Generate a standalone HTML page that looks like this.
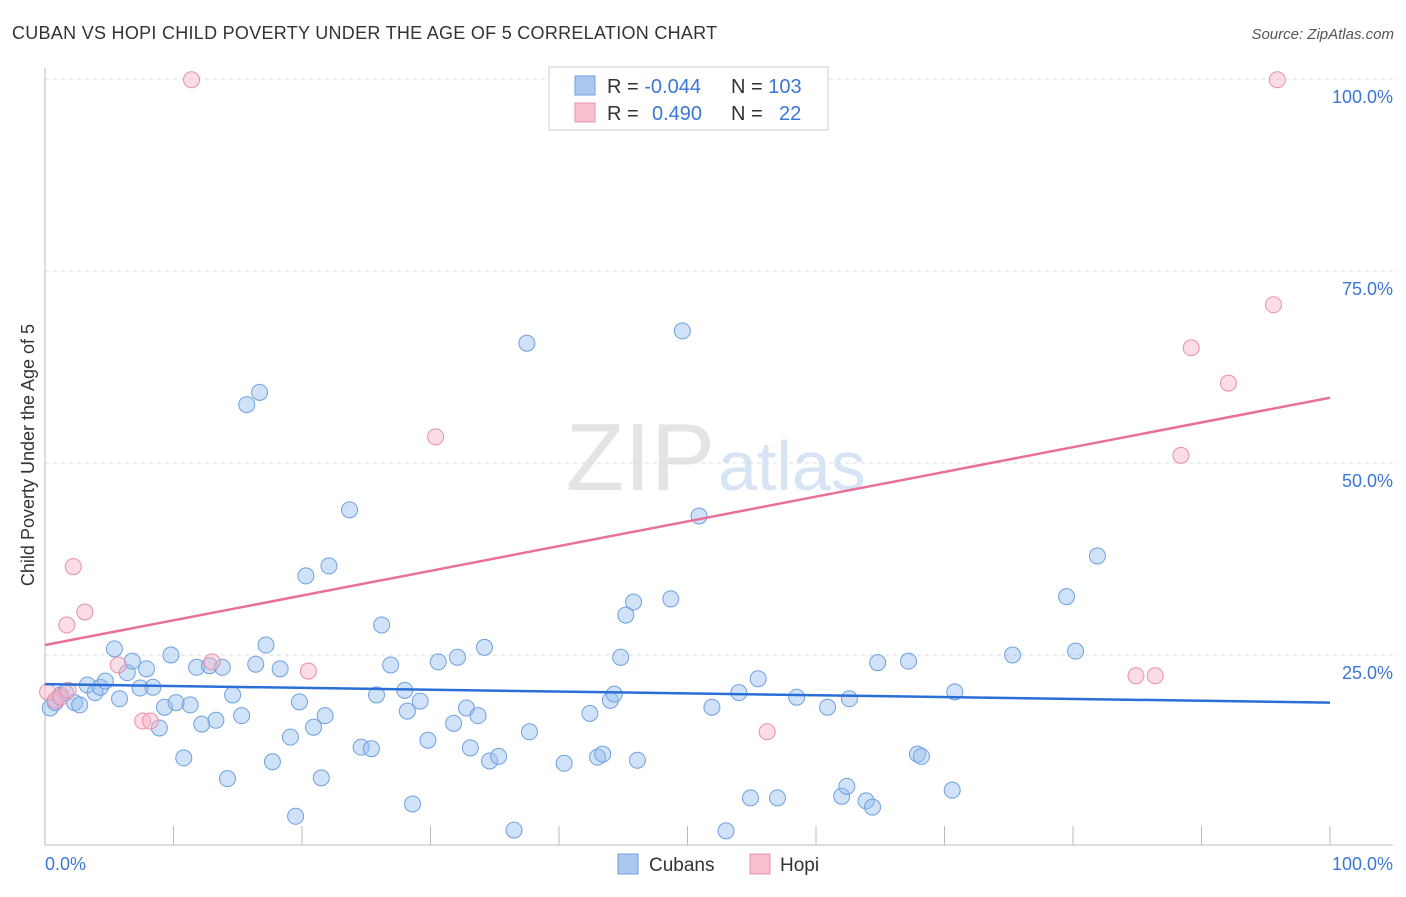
<!DOCTYPE html>
<html><head><meta charset="utf-8"><style>
body{margin:0;background:#fff;font-family:"Liberation Sans",sans-serif}
svg text{font-family:"Liberation Sans",sans-serif}
</style></head><body>
<svg id="chart" width="1406" height="892" viewBox="0 0 1406 892">
<text x="12" y="39" font-size="18" fill="#333" letter-spacing="0.28">CUBAN VS HOPI CHILD POVERTY UNDER THE AGE OF 5 CORRELATION CHART</text>
<text x="1394" y="39" font-size="15" fill="#555" font-style="italic" text-anchor="end">Source: ZipAtlas.com</text>
<text x="715" y="490" font-size="96" fill="#e4e4e4" text-anchor="end" font-family="Liberation Serif">ZIP</text>
<text x="718" y="490" font-size="70" fill="#d6e4f4">atlas</text>
<g id="grid"></g><g id="axes"></g><g id="marks"></g>
<text transform="translate(34,455) rotate(-90)" font-size="18" fill="#333" text-anchor="middle">Child Poverty Under the Age of 5</text>
<g>
<rect x="549" y="67" width="279" height="63" fill="#fff" stroke="#ccc"/>
<rect x="575" y="76" width="20" height="19" fill="#a9c9f1" stroke="#6fa0e0"/>
<rect x="575" y="103" width="20" height="19" fill="#f9c0d0" stroke="#e890a8"/>
<text x="607" y="93" font-size="20" fill="#333">R = <tspan fill="#3a78d4">-0.044</tspan></text>
<text x="731" y="93" font-size="20" fill="#333">N = <tspan fill="#3a78d4">103</tspan></text>
<text x="607" y="120" font-size="20" fill="#333">R = <tspan fill="#3a78d4" x="652">0.490</tspan></text>
<text x="731" y="120" font-size="20" fill="#333">N = <tspan fill="#3a78d4" x="779">22</tspan></text>
</g>
<g>
<rect x="618" y="854" width="20" height="20" fill="#a9c9f1" stroke="#6fa0e0"/>
<text x="649" y="871" font-size="19" fill="#333">Cubans</text>
<rect x="750" y="854" width="20" height="20" fill="#f9c0d0" stroke="#e890a8"/>
<text x="780" y="871" font-size="19" fill="#333">Hopi</text>
</g>
</svg>
<script>
const blueX=[0.4,0.8,1.2,1.6,2.3,2.7,3.3,3.9,4.3,4.7,5.4,5.8,6.4,6.8,7.4,7.9,8.4,8.9,9.3,9.8,10.2,10.8,11.3,11.8,12.2,12.8,13.3,13.8,14.2,14.6,15.3,15.7,16.4,16.7,17.2,17.7,18.3,19.1,19.5,19.8,20.3,20.9,21.5,21.8,22.1,23.7,24.6,25.4,25.8,26.2,26.9,28.0,28.2,28.6,29.2,29.8,30.6,31.8,32.1,32.8,33.1,33.7,34.2,34.6,35.3,36.5,37.5,37.7,40.4,42.4,43.0,43.4,44.0,44.3,44.8,45.2,45.8,46.1,48.7,49.6,50.9,51.9,53.0,54.0,54.9,55.5,57.0,58.5,60.9,62.0,62.4,62.6,63.9,64.4,64.8,67.2,67.9,68.2,70.6,70.8,75.3,79.5,80.2,81.9];
const blueY=[18.1,18.8,19.8,20.1,18.8,18.5,21.1,20.1,20.8,21.6,25.8,19.3,22.7,24.2,20.7,23.2,20.8,15.5,18.2,25.0,18.8,11.6,18.5,23.4,16.0,23.6,16.5,23.4,8.9,19.8,17.1,57.6,23.8,59.2,26.3,11.1,23.2,14.3,4.0,18.9,35.3,15.6,9.0,17.1,36.6,43.9,13.0,12.8,19.8,28.9,23.7,20.4,17.7,5.6,19.0,13.9,24.1,16.1,24.7,18.1,12.9,17.1,26.0,11.2,11.8,2.2,65.6,15.0,10.9,17.4,11.7,12.1,19.1,19.9,24.7,30.2,31.9,11.3,32.3,67.2,43.1,18.2,2.1,20.1,6.4,21.9,6.4,19.5,18.2,6.6,7.9,19.3,6.0,5.2,24.0,24.2,12.1,11.8,7.4,20.2,25.0,32.6,25.5,37.9];
const pinkX=[0.2,0.8,1.2,1.8,2.2,1.7,3.1,5.7,7.6,8.2,11.4,13.0,20.5,30.4,56.2,84.9,86.4,88.4,89.2,92.1,95.6,95.9];
const pinkY=[20.2,19.1,19.5,20.4,36.5,28.9,30.6,23.7,16.4,16.4,99.9,24.1,22.9,53.4,15.0,22.3,22.3,51.0,65.0,60.4,70.6,99.9];
const blueTrend=[21.2,18.8];
const pinkTrend=[26.3,58.5];
const yTicks=[25,50,75,100];
const yTickLabels=["25.0%","50.0%","75.0%","100.0%"];
const xTickLabels=["0.0%","100.0%"];
const NS="http://www.w3.org/2000/svg";
const sx=v=>45+v*12.85, sy=v=>847-v*7.68;
function mk(parent,tag,attrs){const e=document.createElementNS(NS,tag);for(const k in attrs)e.setAttribute(k,attrs[k]);document.getElementById(parent).appendChild(e);return e;}
yTicks.forEach((t,i)=>{
 const g=mk('grid','line',{x1:45,x2:1393,y1:sy(t),y2:sy(t),stroke:'#ddd','stroke-dasharray':'4,4'});
 
 
 const l=mk('axes','text',{x:1393,y:sy(t)+24,'font-size':18,fill:'#3a78d4','text-anchor':'end'});
 l.textContent=yTickLabels[i];
 
 
});
const ax=mk('axes','line',{x1:45,x2:1393,y1:845,y2:845,stroke:'#bbb'});


const ay=mk('axes','line',{x1:45,x2:45,y1:68,y2:845,stroke:'#bbb'});


for(let i=0;i<=10;i++){
 const t=mk('axes','line',{x1:sx(i*10),x2:sx(i*10),y1:826,y2:845,stroke:'#bbb'});
 
 
}
[[0,'start',45],[100,'end',1393]].forEach((d,i)=>{
 const l=mk('axes','text',{x:d[2],y:870,'font-size':18,fill:'#3a78d4','text-anchor':d[1]});
 l.textContent=xTickLabels[i];
 
 
});
blueX.forEach((x,i)=>{
 const c=mk('marks','circle',{cx:sx(x),cy:sy(blueY[i]),r:8,fill:'rgba(150,190,240,0.45)',stroke:'#6fa0e0','stroke-width':1});
 
 
});
pinkX.forEach((x,i)=>{
 const c=mk('marks','circle',{cx:sx(x),cy:sy(pinkY[i]),r:8,fill:'rgba(248,180,200,0.45)',stroke:'#e890a8','stroke-width':1});
 
 
});
const bt=mk('marks','line',{x1:sx(0),x2:sx(100),y1:sy(blueTrend[0]),y2:sy(blueTrend[1]),stroke:'#2a6fd6','stroke-width':2.5});


const pt=mk('marks','line',{x1:sx(0),x2:sx(100),y1:sy(pinkTrend[0]),y2:sy(pinkTrend[1]),stroke:'#e8709a','stroke-width':2.5});


</script>
</body></html>
